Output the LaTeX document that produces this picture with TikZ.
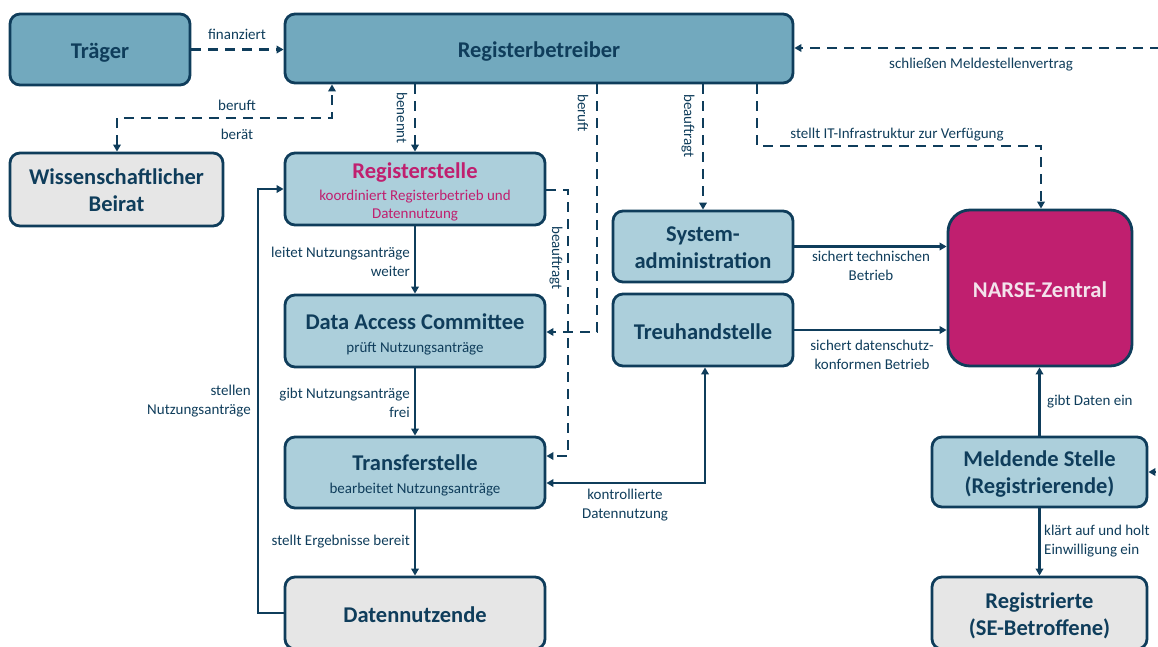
\documentclass[tikz,border=0pt]{standalone}
\usepackage{fontspec}
\setmainfont{Carlito}
\usetikzlibrary{arrows.meta,calc}
\definecolor{navy}{HTML}{0F3D5B}
\definecolor{teal}{HTML}{72A9BE}
\definecolor{lblue}{HTML}{ACCFDB}
\definecolor{lgray}{HTML}{E6E6E6}
\definecolor{magen}{HTML}{C01F6F}
\definecolor{pinkw}{HTML}{F3E3EC}
\newcommand{\ttl}{\fontsize{22.5}{27}\selectfont\bfseries}
\newcommand{\sub}{\fontsize{15}{18}\selectfont\mdseries}
\begin{document}
\begin{tikzpicture}[x=1pt,y=-1pt,
  >={Triangle[length=7pt,width=7.5pt]},
  box/.style={draw=navy, line width=2.8pt, rounded corners=10pt, inner sep=0pt},
  tbox/.style={box, fill=teal},
  bbox/.style={box, fill=lblue},
  gbox/.style={box, fill=lgray},
  btxt/.style={align=center, text=navy, font=\ttl, inner sep=0pt},
  conn/.style={draw=navy, line width=2.3pt},
  dconn/.style={conn, dash pattern=on 10pt off 7pt},
  lbl/.style={text=navy, font=\fontsize{15}{19}\selectfont, inner sep=1pt},
]
\useasboundingbox (0,0) rectangle (1158,646);
\clip (0,0) rectangle (1158,646);

% boxes
\node[tbox, minimum width=180pt, minimum height=71pt] (traeger) at (100,49.5) {};
\node[tbox, minimum width=508pt, minimum height=69pt] (rb) at (539,48.5) {};
\node[gbox, minimum width=213pt, minimum height=73pt] (beirat) at (116.5,189.5) {};
\node[bbox, minimum width=260pt, minimum height=72pt] (rs) at (415,189) {};
\node[bbox, minimum width=260pt, minimum height=72pt] (dac) at (415,331) {};
\node[bbox, minimum width=260pt, minimum height=71pt] (ts) at (415,472.5) {};
\node[gbox, minimum width=260pt, minimum height=72pt] (dn) at (415,613) {};
\node[bbox, minimum width=180pt, minimum height=71pt] (sa) at (703,246.5) {};
\node[bbox, minimum width=180pt, minimum height=72pt] (th) at (703,330) {};
\node[box, fill=magen, rounded corners=22pt, minimum width=184pt, minimum height=156pt] (narse) at (1040,288) {};
\node[bbox, minimum width=215pt, minimum height=70pt] (ms) at (1039.5,472) {};
\node[gbox, minimum width=215pt, minimum height=72pt] (reg) at (1039.5,613) {};

% box texts
\node[btxt] (traegerT) at ($(traeger)+(0,3.5)$) {Träger};
\node[btxt] (rbT) at ($(rb)+(0,3)$) {Registerbetreiber};
\node[btxt] (beiratT) at ($(beirat)+(0,1)$) {Wissenschaftlicher\\Beirat};
\node[btxt, text=magen] (rsT) at ($(rs)+(0,2.5)$) {Registerstelle\\[-5pt]{\sub koordiniert Registerbetrieb und}\\[-9pt]{\sub Datennutzung}};
\node[btxt] (dacT) at ($(dac)+(0,3.5)$) {Data Access Committee\\[-4.5pt]{\sub prüft Nutzungsanträge}};
\node[btxt] (tsT) at ($(ts)+(0,3)$) {Transferstelle\\[-4.5pt]{\sub bearbeitet Nutzungsanträge}};
\node[btxt] (dnT) at ($(dn)+(0,2)$) {Datennutzende};
\node[btxt] (saT) at ($(sa)+(0,1.5)$) {System-\\administration};
\node[btxt] (thT) at ($(th)+(0,2)$) {Treuhandstelle};
\node[btxt, text=pinkw] (narseT) at ($(narse)+(0,2)$) {NARSE-Zentral};
\node[btxt] (msT) at ($(ms)+(0,2.5)$) {Meldende Stelle\\(Registrierende)};
\node[btxt] (regT) at ($(reg)+(0,2.5)$) {Registrierte\\(SE-Betroffene)};

% bend coordinates
\coordinate (b1) at (117,118);
\coordinate (b2) at (332,118);
\coordinate (c1) at (597,332);
\coordinate (c3) at (757,146);
\coordinate (c4) at (1041,146);
\coordinate (e1) at (1160,48);
\coordinate (c5) at (568,190);
\coordinate (c6) at (568,456);
\coordinate (c7) at (258,613);
\coordinate (c9) at (705,483);
\coordinate (e2) at (1155,472);

% dashed connectors
\draw[dconn,->] (traeger.east) -- (traeger.east -| rb.west);
\draw[dconn,<->] (beirat.north -| b1) -- (b1) -- (b2) -- (b2 |- rb.south);
\draw[dconn,->] (rb.south -| rs.north) -- (rs.north);
\draw[dconn,->] (rb.south -| c1) -- (c1) -- (c1 -| dac.east);
\draw[dconn,->] (rb.south -| sa.north) -- (sa.north);
\draw[dconn,->] (rb.south -| c3) -- (c3) -- (c4) -- (c4 |- narse.north);
\draw[dconn,->] (e1) -- (e1 -| rb.east);
\draw[dconn,->] (c5 -| rs.east) -- (c5) -- (c6) -- (c6 -| ts.east);

% solid connectors
\draw[conn,->] (rs) -- (dac);
\draw[conn,->] (dac) -- (ts);
\draw[conn,->] (ts) -- (dn);
\draw[conn,->] (dn.west) -- (c7) |- (rs.west);
\draw[conn,<->] (th.south -| c9) -- (c9) -- (c9 -| ts.east);
\draw[conn,->] (sa.east) -- (sa.east -| narse.west);
\draw[conn,->] (th.east) -- (th.east -| narse.west);
\draw[conn,->] (ms.north) -- (ms.north |- narse.south);
\draw[conn,->] (ms) -- (reg);
\draw[conn,->] (e2) -- (ms.east);

% labels
\node[lbl] (l1) at (237,34) {finanziert};
\node[lbl] (l2) at (237,105) {beruft};
\node[lbl] (l3) at (237,134) {berät};
\node[lbl, rotate=-90] (l4) at (402,118) {benennt};
\node[lbl, rotate=-90] (l5) at (583,113) {beruft};
\node[lbl, rotate=-90] (l6) at (688,126) {beauftragt};
\node[lbl] (l7) at (897,135) {stellt IT-Infrastruktur zur Verfügung};
\node[lbl] (l8) at (981,65) {schließen Meldestellenvertrag};
\node[lbl, rotate=-90] (l9) at (556,258) {beauftragt};
\node[lbl, anchor=east, align=right] (l10) at (411,262) {leitet Nutzungsanträge\\weiter};
\node[lbl, anchor=east, align=right] (l11) at (411,403) {gibt Nutzungsanträge\\frei};
\node[lbl, anchor=east, align=right] (l12) at (252,401) {stellen\\Nutzungsanträge};
\node[lbl, anchor=east] (l13) at (411,542) {stellt Ergebnisse bereit};
\node[lbl, align=center] (l14) at (625,505) {kontrollierte\\Datennutzung};
\node[lbl, align=center] (l15) at (871,266) {sichert technischen\\Betrieb};
\node[lbl, align=center] (l16) at (872,355) {sichert datenschutz-\\konformen Betrieb};
\node[lbl, anchor=west] (l17) at (1046,402) {gibt Daten ein};
\node[lbl, anchor=west, align=left] (l18) at (1043,541) {klärt auf und holt\\Einwilligung ein};
\end{tikzpicture}
\end{document}
